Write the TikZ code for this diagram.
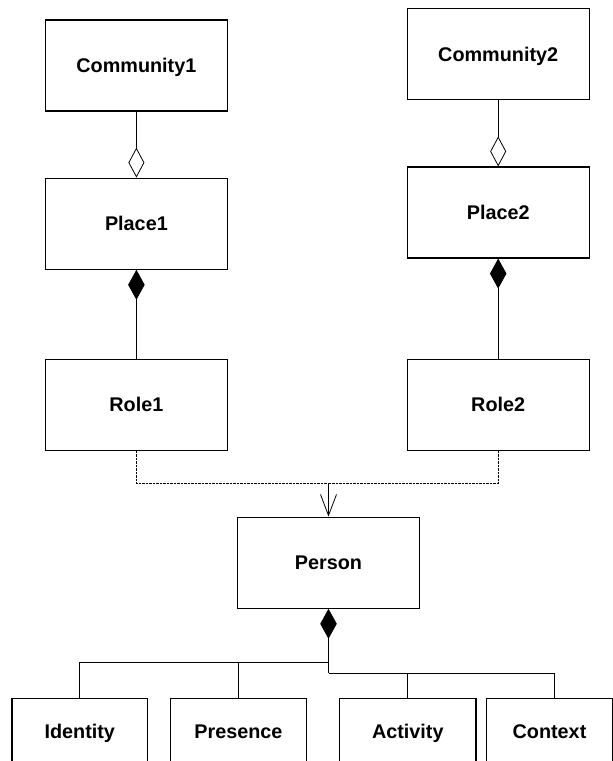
\documentclass[tikz,border=0pt]{standalone}
\usepackage{fontspec}
\setmainfont{Liberation Sans}
\usetikzlibrary{arrows.meta}
\begin{document}
\begin{tikzpicture}[x=1pt,y=-1pt,
  box/.style={draw, line width=1.2pt, minimum width=182pt, minimum height=91pt, inner sep=0pt,
    text height=14.2pt, text depth=0pt,
    font=\fontsize{19.8}{23}\selectfont\bfseries},
  lowbox/.style={box, minimum height=66pt},
  conn/.style={line width=0.8pt},
  agg/.style={conn, {Diamond[open, length=30pt, width=16pt, line width=0.8pt]}-},
  comp/.style={conn, {Diamond[length=30pt, width=16.5pt]}-},
  dep/.style={conn, dash pattern=on 2.5pt off 1pt},
  arr/.style={conn, -{Straight Barb[length=21pt, width=16pt, line width=0.8pt]}}]
\useasboundingbox (0,0) rectangle (613,761);
\clip (0,0) rectangle (613,761);
\fill[white] (0,0) rectangle (613,761);

\node[box] (comm1)  at (136.4,65.5)  {Community1};
\node[box] (place1) at (136.4,223.7) {Place1};
\node[box] (role1)  at (136.4,404.7) {Role1};
\node[box] (comm2)  at (498.2,54.3)  {Community2};
\node[box] (place2) at (498.2,212.5) {Place2};
\node[box] (role2)  at (498.2,404.7) {Role2};
\node[box] (person) at (328.5,562.7) {Person};

\node[lowbox, minimum width=135.7pt] (identity) at (79.8,731.5)  {Identity};
\node[lowbox, minimum width=136pt]   (presence) at (238.4,731.5) {Presence};
\node[lowbox, minimum width=136.3pt] (activity) at (407.8,731.5) {Activity};
\node[lowbox, minimum width=126.4pt] (context)  at (549.5,731.5) {Context};

% aggregation
\draw[agg] (place1.north) -- (comm1.south);
\draw[agg] (place2.north) -- (comm2.south);
% composition
\draw[comp] (place1.south) -- (role1.north);
\draw[comp] (place2.south) -- (role2.north);

% dependency
\coordinate (j) at (328.5,483.3);
\draw[dep] (role1.south) |- (j);
\draw[dep] (role2.south) |- (j);
\draw[arr] (j) -- (person.north);

% composition tree
\coordinate (tl) at (328.5,662.7);
\coordinate (tr) at (328.5,673);
\draw[comp] (person.south) -- (tr);
\draw[conn] (tl) -| (identity.north);
\draw[conn] (tl) -| (presence.north);
\draw[conn] (tr) -| (activity.north);
\draw[conn] (tr) -| ([xshift=5pt]context.north);
\end{tikzpicture}
\end{document}
